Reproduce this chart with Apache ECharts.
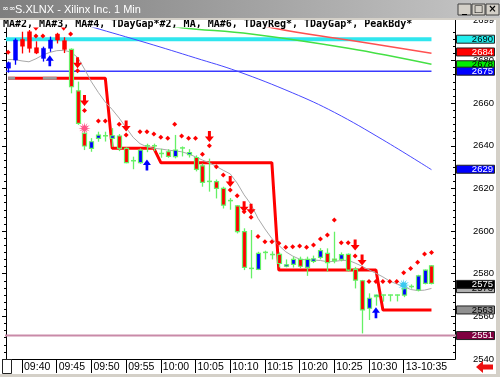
<!DOCTYPE html>
<html><head><meta charset="utf-8">
<script src="https://cdn.jsdelivr.net/npm/echarts@6/dist/echarts.min.js"></script>
<style>html,body{margin:0;padding:0;background:#d4d0c8;}#c{width:500px;height:377px;}</style>
</head><body><div id="c"></div>
<script>
// ---------- DATA ----------
const firstBar = '09:38';
const paintFrom = '09:47';
const opens = [2676.4,2680.2,2689.9,2693.5,2686,2681,2685.7,2692.4,2689.3,2685.2,2665.8,2645.8,2638.8,2643.5,2644.5,2643.5,2644.6,2638.8,2633.2,2632.1,2640,2640,2636.6,2637.2,2634.9,2639.2,2635.9,2634.5,2630.6,2623.5,2623.2,2620,2614.4,2611.8,2599.7,2582.6,2582,2590.1,2589.1,2589.1,2583.5,2584.4,2586.7,2583,2585.8,2587.7,2589.5,2586.8,2586.7,2589.1,2582,2576.7,2563.8,2569.4,2570,2570,2570,2570,2574.1,2572.4,2575.5,2583.7];
const closes = [2679.0,2689.6,2686.7,2685.7,2683.5,2685.7,2689.6,2689.6,2685.2,2667.7,2650.5,2639.9,2641.9,2645,2644.7,2644.7,2638.8,2632.1,2633,2638,2640,2640,2636.4,2635,2638,2639,2636.8,2628.9,2622.8,2623.3,2620,2612.2,2614.3,2599.7,2583,2582.5,2589.5,2590,2589,2584.8,2584.2,2586.7,2583.5,2586.7,2587,2590.8,2585.2,2586.4,2589,2581.7,2577,2563,2568.5,2570,2570,2570,2570,2573,2574,2579,2581.7,2575.5];
const highs = [2679.5,2690.4,2693.5,2694.3,2689,2686.5,2691.2,2693,2690.9,2685.7,2670.1,2649,2643.6,2646.6,2646.6,2648.3,2645.5,2639.3,2634.9,2638.8,2641,2641,2638.6,2638.4,2645.1,2639.7,2638.4,2635.5,2631.7,2634,2624.2,2620.8,2615.5,2612.2,2601.3,2600.5,2590.3,2590.8,2590.5,2590,2586.7,2588,2588,2588,2588.5,2592,2591.9,2599.7,2590,2589.5,2583.2,2577.1,2570.8,2570.2,2570.2,2570.2,2570.2,2575.5,2575,2579.5,2582,2584];
const lows = [2674.3,2678,2683.3,2683.7,2683,2679.5,2684.1,2688,2683.5,2664.6,2649.8,2638,2637.2,2641.9,2642,2639.5,2637.5,2631.8,2629,2631.6,2637,2637.5,2634.4,2634.4,2634.1,2635,2634.5,2628,2620.8,2618.5,2615.3,2610.6,2610,2598.9,2581.7,2577.8,2581.7,2586.7,2586.7,2583,2583,2582.9,2582.5,2579,2585,2586.7,2581,2584.9,2585.8,2581,2573.1,2552,2558.3,2565,2566.9,2567,2567,2569,2573,2571.7,2575,2575];
const maShort = [2680.5,2680.4,2679.8,2679.4,2680.8,2682.6,2683.8,2684.6,2684.8,2684.0,2681.5,2676,2670,2665,2660.5,2657,2653,2648.5,2644,2641,2639.5,2638.8,2638.5,2638,2637.6,2637.2,2636.2,2634.8,2633.3,2632,2630.3,2628.5,2626.8,2622.5,2617,2612.5,2606,2601,2596.5,2593.3,2590.3,2588.3,2586.8,2586.5,2586.4,2586.2,2585.6,2585.8,2586.2,2586.3,2585,2583.5,2581.8,2580.2,2578.5,2576.5,2575.2,2574,2572.6,2572.1,2572.3,2573.1];
const tDayReg = [2671.7,2671.7,2671.7,2671.7,2671.7,2671.7,2671.7,2671.7,2671.7,2671.7,2671.7,2671.7,2671.7,2671.7,2671.7,2638.8,2638.8,2638.8,2638.8,2638.8,2638.8,2638.8,2632.1,2632.1,2632.1,2632.1,2632.1,2632.1,2632.1,2632.1,2632.1,2632.1,2632.1,2632.1,2632.1,2632.1,2632.1,2632.1,2632.1,2581.7,2581.7,2581.7,2581.7,2581.7,2581.7,2581.7,2581.7,2581.7,2581.7,2581.7,2581.7,2581.7,2581.7,2581.7,2563,2563,2563,2563,2563,2563,2563,2563];
const tDayGap2 = [['09:38',2671.7],['09:39',2671.7],[null,null],['09:43',2671.7],['09:45',2671.7]];
const ma2 = [['09:46',2699.6],['09:50',2695.8],['09:58',2688.2],['10:05',2681.2],['10:11',2675],['10:19',2664.8],['10:25',2655.7],['10:32',2642.8],['10:39',2628.8]];
const ma3 = [['09:56',2698.6],['10:03',2695.4],['10:13',2692.4],['10:27',2685.7],['10:39',2678.2]];
const ma4 = [['10:12',2699.4],['10:16',2695.4],['10:27',2689.6],['10:39',2683.4]];
const gapHigh = 2690, gapLow = 2675, dayLow = 2551;
const peakDots = [['09:38',2683.9],['09:42',2691.5],['09:43',2691.5],['09:47',2692.4],['09:48',2675.2],['09:49',2656.5],['09:51',2651.6],['09:52',2651.6],['09:54',2650.1],['09:55',2645.1],['09:57',2646.6],['09:58',2646.6],['09:59',2645.5],['10:00',2644],['10:01',2643.5],['10:02',2650.1],['10:03',2644.6],['10:04',2643.5],['10:05',2643.5],['10:06',2636],['10:07',2640],['10:08',2630.2],['10:09',2626.3],['10:10',2619.3],['10:11',2616.6],['10:12',2609.1],['10:13',2606.5],['10:14',2597.4],['10:15',2595],['10:16',2595],['10:17',2594.3],['10:18',2592.4],['10:19',2592.7],['10:20',2593],['10:21',2592.4],['10:22',2593.5],['10:23',2596.3],['10:24',2598.2],['10:25',2605.2],['10:26',2594.5],['10:27',2594.5],['10:28',2588.3],['10:29',2582.5],['10:30',2576.3],['10:31',2576.3],['10:32',2576.3],['10:33',2576.3],['10:34',2576.3],['10:35',2580.5],['10:36',2582.5],['10:37',2585.4],['10:38',2589.2],['10:39',2590]];
const downArrows = [['09:42',2696.5],['09:46',2696.5],['09:48',2679],['09:49',2661.2],['09:55',2649.3],['10:07',2644.3],['10:10',2623.2],['10:12',2611.4],['10:13',2610.2],['10:28',2593.5],['10:29',2586.4]];
const upArrows = [['09:44',2679.9],['09:58',2631],['10:31',2561.7]];
const burstPink = [['09:49',2648.2]];
const burstCyan = [['10:35',2574.7]];
const tickTimes = ['09:40','09:45','09:50','09:55','10:00','10:05','10:10','10:15','10:20','10:25','10:30','10:35'];
const tickLabels = ['09:40','09:45','09:50','09:55','10:00','10:05','10:10','10:15','10:20','10:25','10:30','13-10:35'];
const lastValues = [2690,2684,2678,2675,2629,2573,2575,2563,2551];
const legendText = 'MA#2, MA#3, MA#4, TDayGap*#2, MA, MA#6, TDayReg*, TDayGap*, PeakBdy*';
const titleText = 'S.XLNX - Xilinx Inc. 1 Min';

// ---------- BUILD ----------
const toMin = t => { const [h,m] = t.split(':').map(Number); return h*60+m-540; };
const t0 = toMin(firstBar);
const barX = opens.map((_,i)=>t0+i);
const pStart = toMin(paintFrom);
const candleData = opens.map((o,i)=>[barX[i], o, closes[i], lows[i], highs[i], barX[i]>=pStart?1:0]);
const pts = arr => arr.map(p => p[0]===null ? [null,null] : [toMin(p[0]), p[1]]);
const X0 = 37.69, X1 = 102.39;
const xLast = barX[barX.length-1];
const tickMins = tickTimes.map(toMin);

function starPath(n){ let s='path://'; for(let i=0;i<2*n;i++){ const r = i%2?4:10; const a = Math.PI*i/n; s += (i?'L':'M') + (10+r*Math.cos(a)).toFixed(2)+','+(10+r*Math.sin(a)).toFixed(2); } return s+'Z'; }
const STAR = starPath(12);
const DOWN = 'path://M3,0L6,0L6,5L9,5L4.5,10L0,5L3,5Z';
const UP = 'path://M4.5,0L9,5L6,5L6,10L3,10L3,5L0,5Z';

const GREEN = '#66f066';
function renderCandle(params, api){
  const x = api.value(0), o = api.value(1), c = api.value(2), l = api.value(3), h = api.value(4), p = api.value(5);
  const pO = api.coord([x,o]), pC = api.coord([x,c]), pL = api.coord([x,l]), pH = api.coord([x,h]);
  const up = c > o;
  const body = up ? '#0000ff' : '#ff0000';
  const wick = p ? GREEN : body;
  const cx = Math.round(pO[0]) + 0.5;
  const ch = [{type:'line', shape:{x1:cx,y1:pH[1],x2:cx,y2:pL[1]}, style:{stroke:wick, lineWidth:1.3}}];
  if (Math.abs(c-o) < 0.35) {
    ch.push({type:'line', shape:{x1:cx-2.5,y1:pC[1],x2:cx+2.5,y2:pC[1]}, style:{stroke:wick, lineWidth:1.5}});
  } else {
    const top = Math.min(pO[1],pC[1]), hh = Math.max(1.5, Math.abs(pO[1]-pC[1]));
    ch.push({type:'rect', shape:{x:cx-2,y:top,width:4,height:hh}, style:{fill:body, stroke:wick, lineWidth:p?1.2:0.5}});
  }
  return {type:'group', children:ch};
}

const chart = echarts.init(document.getElementById('c'));
const lineBase = {type:'line', symbol:'none', silent:true, animation:false, xAxisIndex:0, yAxisIndex:0};
const option = {
  animation:false,
  backgroundColor:'#ffffff',
  grid:{left:6, top:20, width:449, height:339, show:false},
  xAxis:[{type:'value', min:X0, max:X1, splitLine:{show:false},
    axisLine:{show:true, onZero:false, lineStyle:{color:'#000', width:1}},
    axisTick:{show:true, length:14, customValues:tickMins, lineStyle:{color:'#000'}},
    axisLabel:{show:true, customValues:tickMins, align:'left', margin:3, padding:[0,0,0,2], fontFamily:'Liberation Sans', fontSize:10.5, color:'#000',
      formatter:v=>{ const i = tickMins.indexOf(Math.round(v)); return i>=0?tickLabels[i]:''; }},
    minorTick:{show:false}}],
  yAxis:[
    {type:'value', position:'right', min:2540, max:2699, interval:20, splitLine:{show:false},
      axisLine:{show:true, lineStyle:{color:'#000'}},
      axisTick:{show:true, inside:true, length:4, lineStyle:{color:'#000'}},
      minorTick:{show:true, splitNumber:6, length:2, lineStyle:{color:'#000'}},
      axisLabel:{show:true, margin:18, fontFamily:'Liberation Sans', fontSize:9.5, color:'#000', formatter:v=>String(v)}},
    {type:'value', position:'left', min:2540, max:2699, interval:20, splitLine:{show:false},
      axisLine:{show:true, lineStyle:{color:'#000'}},
      axisTick:{show:true, inside:false, length:4, lineStyle:{color:'#000'}},
      minorTick:{show:true, splitNumber:6, length:2, lineStyle:{color:'#000'}},
      axisLabel:{show:false}}
  ],
  series:[
    Object.assign({}, lineBase, {name:'TDayGap* high', data:[[X0,gapHigh],[xLast,gapHigh]], lineStyle:{color:'#30e6ee', width:4}, z:2}),
    Object.assign({}, lineBase, {name:'TDayGap* low', data:[[X0,gapLow],[xLast,gapLow]], lineStyle:{color:'#3a3aff', width:1.5}, z:2}),
    Object.assign({}, lineBase, {name:'Day low', data:[[X0-1,dayLow],[X1+1,dayLow]], lineStyle:{color:'#c98aa8', width:2}, z:2}),
    Object.assign({}, lineBase, {name:'MA#2', data:pts(ma2), smooth:0.4, lineStyle:{color:'#4848ff', width:1}, z:2}),
    Object.assign({}, lineBase, {name:'MA#3', data:pts(ma3), smooth:0.4, lineStyle:{color:'#44e044', width:1.5}, z:2}),
    Object.assign({}, lineBase, {name:'MA#4', data:pts(ma4), smooth:0.4, lineStyle:{color:'#ff5050', width:1.5}, z:2}),
    Object.assign({}, lineBase, {name:'TDayReg*', data:tDayReg.map((v,i)=>[barX[i],v]), lineStyle:{color:'#ff0000', width:3}, z:3}),
    Object.assign({}, lineBase, {name:'TDayGap*#2', data:pts(tDayGap2), connectNulls:false, lineStyle:{color:'#9a9a9a', width:3}, z:3}),
    Object.assign({}, lineBase, {name:'MA', data:maShort.map((v,i)=>[barX[i],v]), lineStyle:{color:'#a8a8a8', width:1}, z:3}),
    {type:'custom', name:'Price', renderItem:renderCandle, data:candleData, encode:{x:0, y:[1,2,3,4]}, silent:true, animation:false, z:4},
    {type:'scatter', name:'PeakBdy*', data:pts(peakDots), symbol:'diamond', symbolSize:[5,5], itemStyle:{color:'#ff0000', opacity:1}, silent:true, z:5},
    {type:'scatter', name:'Sell', data:pts(downArrows), symbol:DOWN, symbolSize:[9,11], itemStyle:{color:'#ff0000', opacity:1}, silent:true, z:6},
    {type:'scatter', name:'Buy', data:pts(upArrows), symbol:UP, symbolSize:[8,11], itemStyle:{color:'#0000ff', opacity:1}, silent:true, z:6},
    {type:'scatter', name:'Peak', data:pts(burstPink), symbol:STAR, symbolSize:[12,12], itemStyle:{color:'#ff5588', opacity:1}, silent:true, z:6},
    {type:'scatter', name:'Trough', data:pts(burstCyan), symbol:STAR, symbolSize:[12,12], itemStyle:{color:'#38c8f0', opacity:1}, silent:true, z:6}
  ]
};
chart.setOption(option);

// right-edge value boxes positioned through the y scale
const boxStyle = {2690:['#22eeee','#000'],2684:['#ff0000','#fff'],2678:['#00ee00','#000'],2675:['#0000ff','#fff'],2629:['#0000ff','#fff'],2573:['#b0b0b0','#000'],2575:['#000000','#fff'],2563:['#909090','#000'],2551:['#800040','#fff']};
const g = [];
g.push({type:'rect', shape:{x:0,y:0,width:500,height:19}, style:{fill:new echarts.graphic.LinearGradient(0,0,1,0,[{offset:0,color:'#7e7e7e'},{offset:1,color:'#c6c6c6'}])}, z:200});
g.push({type:'rect', shape:{x:0,y:18,width:500,height:2}, style:{fill:'#d4d0c8'}, z:200});
g.push({type:'text', style:{text:'∞∞', x:2, y:9, fill:'#fff', font:'8px DejaVu Sans', verticalAlign:'middle'}, z:201});
g.push({type:'text', style:{text:titleText, x:15, y:9.5, fill:'#ffffff', font:'11px Liberation Sans', verticalAlign:'middle'}, z:201});
[[458,'_'],[472,'□'],[486,'×']].forEach(([bx,s])=>{
  g.push({type:'rect', shape:{x:bx,y:4,width:13,height:11}, style:{fill:'#d4d0c8', stroke:'#404040', lineWidth:1}, z:201});
  g.push({type:'text', style:{text:s, x:bx+6.5, y:9.5, fill:'#000', font:'bold 10px DejaVu Sans', align:'center', verticalAlign:'middle'}, z:202});
});
g.push({type:'rect', shape:{x:496,y:18,width:4,height:359}, style:{fill:'#d4d0c8'}, z:200});
g.push({type:'rect', shape:{x:0,y:374,width:500,height:3}, style:{fill:'#d4d0c8'}, z:200});
g.push({type:'rect', shape:{x:2.5,y:359.5,width:9,height:14}, style:{fill:'#fff', stroke:'#222', lineWidth:1}, z:200});
g.push({type:'polygon', shape:{points:[[476,367],[483,361],[483,364.5],[493,364.5],[493,369.5],[483,369.5],[483,373]]}, style:{fill:'#ee1111'}, z:200});
g.push({type:'rect', shape:{x:0,y:20,width:455,height:7.5}, style:{fill:'#fff'}, z:150});
g.push({type:'text', style:{text:legendText, x:3, y:24, fill:'#000', font:'bold 10px DejaVu Sans Mono', verticalAlign:'middle'}, z:151});
lastValues.forEach(v=>{
  const y = chart.convertToPixel({yAxisIndex:0}, v);
  const [bg, fg] = boxStyle[v];
  g.push({type:'rect', shape:{x:456.5,y:y-4,width:38,height:8}, style:{fill:bg, stroke:'#222', lineWidth:1}, z:160});
  g.push({type:'text', style:{text:String(v), x:493, y:y, fill:fg, font:'9.5px Liberation Sans', align:'right', verticalAlign:'middle'}, z:161});
});
chart.setOption({graphic:{elements:g}});
</script></body></html>
